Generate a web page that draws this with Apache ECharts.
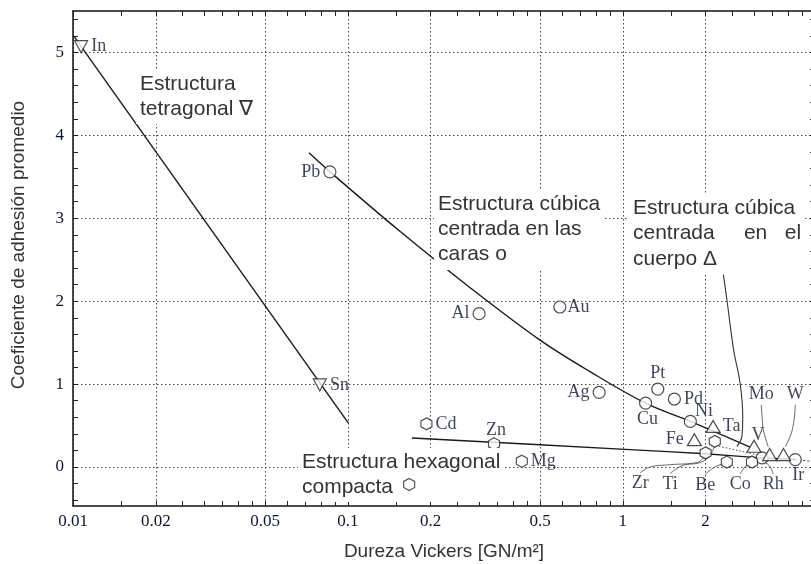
<!DOCTYPE html>
<html><head><meta charset="utf-8">
<script src="https://cdn.jsdelivr.net/npm/echarts@6/dist/echarts.min.js"></script>
<style>html,body{margin:0;padding:0;background:#fff}#c{width:811px;height:564px}</style>
</head><body><div id="c"></div>
<script>
// ---- tick values ----
const xMajorTicks = [0.01, 0.02, 0.05, 0.1, 0.2, 0.5, 1, 2];
const xMinorTicks = [0.015, 0.025, 0.03, 0.035, 0.04, 0.045, 0.06, 0.07, 0.08, 0.09,
  0.15, 0.25, 0.3, 0.35, 0.4, 0.45, 0.6, 0.7, 0.8, 0.9,
  1.5, 2.5, 3, 3.5, 4, 4.5];
const yMajorTicks = [0, 1, 2, 3, 4, 5];
const yMinorTicks = [-0.4, -0.2, 0.2, 0.4, 0.6, 0.8, 1.2, 1.4, 1.6, 1.8, 2.2, 2.4, 2.6, 2.8,
  3.2, 3.4, 3.6, 3.8, 4.2, 4.4, 4.6, 4.8, 5.2, 5.4];

// ---- points: [element, Vickers hardness, adhesion coefficient] ----
const tetragonalPoints = [['In', 0.0107, 5.07], ['Sn', 0.079, 0.99]];
const fccPoints = [['Pb', 0.086, 3.56], ['Al', 0.30, 1.85], ['Au', 0.59, 1.93], ['Ag', 0.82, 0.90],
  ['Pt', 1.34, 0.94], ['Cu', 1.21, 0.77], ['Pd', 1.54, 0.82], ['Ni', 1.76, 0.55],
  ['Rh', 3.21, 0.11], ['Ir', 4.24, 0.09]];
const bccPoints = [['Fe', 1.82, 0.33], ['Ta', 2.13, 0.49], ['V', 3.0, 0.25], ['Mo', 3.42, 0.15], ['W', 3.84, 0.15]];
const hcpPoints = [['Cd', 0.193, 0.52], ['Zn', 0.34, 0.28], ['Mg', 0.429, 0.07], ['Zr', 2.0, 0.17],
  ['Ti', 2.16, 0.31], ['Be', 2.39, 0.06], ['Co', 2.95, 0.06]];
const hcpKeySymbol = [[0.167, -0.21]];

// ---- trend lines ----
const tetragonalLine = [[0.0101, 5.19], [0.1004, 0.53]];
const fccLine = [[0.0722, 3.79], [0.0861, 3.56], [0.155, 2.84], [0.279, 2.16], [0.50, 1.53],
  [0.76, 1.15], [1.21, 0.77], [1.76, 0.55], [2.90, 0.24]];
const hcpLine = [[0.171, 0.35], [1.06, 0.21], [2.0, 0.16], [3.2, 0.11], [4.24, 0.09]];
const hcpTail = [[4.24, 0.09], [4.86, 0.067]];
const fccDotted = [[2.11, 0.27], [3.25, 0.13]];
const bccLine = [[2.305, 2.39], [2.39, 2.02], [2.53, 1.41], [2.67, 1.01], [2.73, 0.61], [2.71, 0.37], [2.60, 0.25]];

// ---- leader lines (first point = label anchor) ----
const leaderZr = [[1.156, -0.07], [1.257, 0.0], [1.486, 0.028], [1.865, 0.055], [1.977, 0.128]];
const leaderTi = [[1.486, -0.08], [1.644, 0.016], [1.944, 0.064], [2.114, 0.184], [2.15, 0.26]];
const leaderBe = [[1.994, -0.09], [2.168, 0.004], [2.339, 0.04]];
const leaderCo = [[2.673, -0.084], [2.788, 0.004], [2.907, 0.04]];
const leaderRh = [[3.525, -0.084], [3.408, 0.016], [3.241, 0.064]];
const leaderMo = [[3.187, 0.75], [3.22, 0.55], [3.241, 0.45], [3.38, 0.245]];
const leaderW = [[4.24, 0.75], [4.135, 0.45], [3.898, 0.245]];
const leaders = [['Zr', leaderZr, 'bottom'], ['Ti', leaderTi, 'bottom'], ['Be', leaderBe, 'bottom'],
  ['Co', leaderCo, 'bottom'], ['Rh', leaderRh, 'bottom'], ['Mo', leaderMo, 'top'], ['W', leaderW, 'top']];

// ---- label placement (style) ----
const labelPlace = {
  In: ['right', [0, 0]], Sn: ['right', [0, 0]], Pb: ['left', [0, 0]], Al: ['left', [0, 0]],
  Au: ['right', [-2, 0]], Ag: ['left', [0, 0]], Pt: ['top', [0, 3]], Cu: ['bottom', [2, -3]],
  Pd: ['right', [0, 0]], Ni: ['right', [-5, -10]], Ir: ['bottom', [3, -3]], Fe: ['left', [0, 0]],
  Ta: ['right', [-1, 0]], V: ['top', [4, 8]], Cd: ['right', [0, 0]], Zn: ['top', [2, 5]], Mg: ['right', [0, 0]],
  Rh: null, Mo: null, W: null, Zr: null, Ti: null, Be: null, Co: null
};

const LABEL_FONT = 'Liberation Serif';
const LABEL_COLOR = '#0f1430';
const hexPath = 'path://M0,-10L8.66,-5L8.66,5L0,10L-8.66,5L-8.66,-5Z';

function pts(list) {
  return list.map(function (p) {
    const place = labelPlace[p[0]];
    const item = { name: p[0], value: [p[1], p[2]] };
    if (place) {
      item.label = { show: true, position: place[0], offset: place[1] };
    } else {
      item.label = { show: false };
    }
    return item;
  });
}

const markerStyle = { color: '#fff', borderColor: '#222', borderWidth: 1.2 };
const labelStyle = { fontFamily: LABEL_FONT, fontSize: 18, color: LABEL_COLOR, distance: 3, formatter: '{b}' };

function lineSeries(data, opts) {
  return Object.assign({
    type: 'line', data: data, showSymbol: false, symbol: 'none', silent: true, z: 2,
    lineStyle: { color: '#1a1a1a', width: 1.4 }
  }, opts || {});
}

const series = [
  lineSeries(tetragonalLine),
  lineSeries(fccLine, { smooth: 0.35 }),
  lineSeries(hcpLine, { smooth: 0.2 }),
  lineSeries(hcpTail, { lineStyle: { color: '#333', width: 1, type: [2, 2] } }),
  lineSeries(fccDotted, { lineStyle: { color: '#444', width: 1, type: [1.5, 2] } }),
  lineSeries(bccLine, { smooth: 0.4, lineStyle: { color: '#333', width: 1.1 } })
];
leaders.forEach(function (l) {
  series.push(lineSeries(l[1], { smooth: 0.45, lineStyle: { color: '#555', width: 0.9 } }));
});
series.push({
  type: 'scatter', name: 'leaderLabels', silent: true, symbolSize: 1, z: 5,
  itemStyle: { color: 'rgba(0,0,0,0)' },
  data: leaders.map(function (l) {
    return { name: l[0], value: l[1][0], label: { show: true, position: l[2], distance: 1 } };
  }),
  label: labelStyle
});
series.push({
  type: 'scatter', name: 'Tetragonal', symbol: 'triangle', symbolRotate: 180, symbolSize: [13, 12], z: 4,
  itemStyle: markerStyle, label: labelStyle, data: pts(tetragonalPoints)
});
series.push({
  type: 'scatter', name: 'FCC', symbol: 'circle', symbolSize: 12, z: 4,
  itemStyle: markerStyle, label: labelStyle, data: pts(fccPoints)
});
series.push({
  type: 'scatter', name: 'BCC', symbol: 'triangle', symbolSize: [14, 12], z: 4,
  itemStyle: markerStyle, label: labelStyle, data: pts(bccPoints)
});
series.push({
  type: 'scatter', name: 'HCP', symbol: hexPath, symbolSize: [11, 12], z: 4,
  itemStyle: markerStyle, label: labelStyle, data: pts(hcpPoints)
});
series.push({
  type: 'scatter', name: 'HCPkey', symbol: hexPath, symbolSize: [11, 12], z: 12,
  itemStyle: markerStyle, data: hcpKeySymbol
});

const X_MIN = 0.01, X_MAX = 5, Y_MIN = -0.47, Y_MAX = 5.5;
const allX = xMajorTicks.concat(xMinorTicks);
const allY = yMajorTicks.concat(yMinorTicks);
const frameLine = { show: true, onZero: false, lineStyle: { color: '#111', width: 1.5 } };
const tickStyle = { show: true, inside: true, length: 5, lineStyle: { color: '#222', width: 1 } };
const tickFont = { fontFamily: LABEL_FONT, fontSize: 17, color: LABEL_COLOR };
const gridLine = { show: true, lineStyle: { color: '#444', width: 1, type: [1.5, 2.5] } };

const chart = echarts.init(document.getElementById('c'), null, { renderer: 'canvas' });
chart.setOption({
  animation: false,
  backgroundColor: '#fff',
  grid: { left: 73, right: -4, top: 11, bottom: 58, containLabel: false, outerBoundsMode: 'none' },
  xAxis: [
    {
      type: 'log', min: X_MIN, max: X_MAX, position: 'bottom',
      name: 'Dureza Vickers [GN/m²]', nameLocation: 'middle', nameGap: 36,
      nameTextStyle: { fontFamily: 'Liberation Sans', fontSize: 19, color: '#333' },
      axisLine: frameLine,
      axisTick: Object.assign({ customValues: allX }, tickStyle),
      axisLabel: Object.assign({ customValues: xMajorTicks, margin: 7, formatter: function (v) { return String(+(+v).toPrecision(3)); } }, tickFont),
      splitLine: { show: false }, minorTick: { show: false }
    },
    {
      type: 'log', min: X_MIN, max: X_MAX, position: 'top',
      axisLine: frameLine,
      axisTick: Object.assign({ customValues: allX }, tickStyle),
      axisLabel: { show: false }, splitLine: { show: false }
    },
    {
      type: 'log', min: X_MIN, max: X_MAX, position: 'bottom',
      axisLine: { show: false, onZero: false },
      axisTick: { show: false, customValues: xMajorTicks },
      axisLabel: { show: false }, splitLine: gridLine
    }
  ],
  yAxis: [
    {
      type: 'value', min: Y_MIN, max: Y_MAX, position: 'left',
      name: 'Coeficiente de adhesión promedio', nameLocation: 'middle', nameGap: 45,
      nameTextStyle: { fontFamily: 'Liberation Sans', fontSize: 19, color: '#333', padding: [0, 0, 0, 27] },
      axisLine: frameLine,
      axisTick: Object.assign({ customValues: allY }, tickStyle),
      axisLabel: Object.assign({ customValues: yMajorTicks, margin: 9 }, tickFont),
      splitLine: { show: false }
    },
    {
      type: 'value', min: Y_MIN, max: Y_MAX, position: 'right',
      axisLine: frameLine,
      axisTick: Object.assign({ customValues: allY }, tickStyle),
      axisLabel: { show: false }, splitLine: { show: false }
    },
    {
      type: 'value', min: Y_MIN, max: Y_MAX, position: 'left',
      axisLine: { show: false, onZero: false },
      axisTick: { show: false, customValues: yMajorTicks },
      axisLabel: { show: false }, splitLine: gridLine
    }
  ],
  series: series,
  graphic: [
    {
      type: 'text', left: 136, top: 70, z: 10,
      style: { text: 'Estructura\ntetragonal ∇', fontFamily: 'Liberation Sans', fontSize: 21, lineHeight: 25,
        fill: '#333', backgroundColor: '#fff', padding: [2, 4, 2, 4] }
    },
    {
      type: 'text', left: 434, top: 190, z: 10,
      style: { text: 'Estructura cúbica\ncentrada en las\ncaras o', fontFamily: 'Liberation Sans', fontSize: 21, lineHeight: 25,
        fill: '#333', backgroundColor: '#fff', padding: [2, 4, 3, 4] }
    },
    {
      type: 'text', left: 629, top: 193, z: 10,
      style: { text: 'Estructura cúbica\ncentrada     en   el\ncuerpo Δ', fontFamily: 'Liberation Sans', fontSize: 21, lineHeight: 25.5,
        fill: '#333', backgroundColor: '#fff', padding: [2, 4, 3, 4] }
    },
    {
      type: 'text', left: 298, top: 448, z: 10,
      style: { text: 'Estructura hexagonal\ncompacta', fontFamily: 'Liberation Sans', fontSize: 21, lineHeight: 25,
        fill: '#333', backgroundColor: '#fff', padding: [2, 4, 2, 4] }
    }
  ]
});
</script>
</body></html>
